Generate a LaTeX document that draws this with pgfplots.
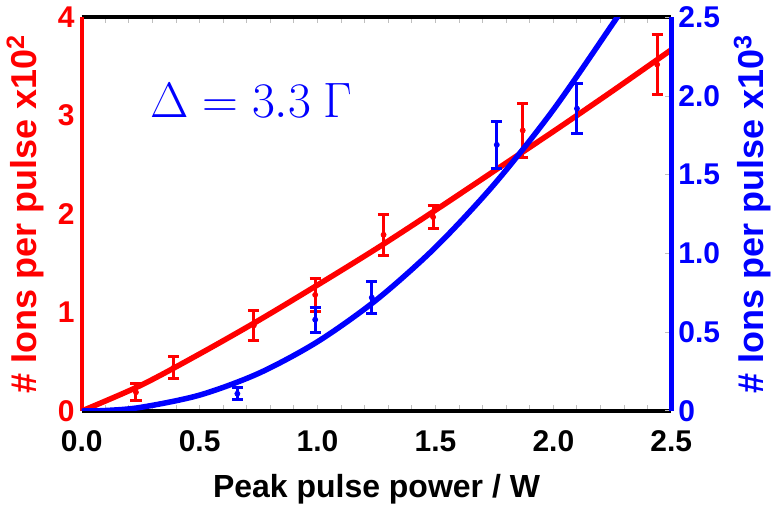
\documentclass[border=0pt]{standalone}
\usepackage{fontspec}
\setmainfont{Liberation Sans}
\usepackage{pgfplots}
\usepackage{pgfplotstable}
\pgfplotsset{compat=1.18}

% red series, left axis (x10^2)
\pgfplotstableread{
x     y     e
0.23  0.19  0.085
0.39  0.44  0.11
0.73  0.87  0.15
0.99  1.18  0.17
1.28  1.79  0.21
1.49  1.97  0.12
1.87  2.85  0.27
2.44  3.52  0.30
}\reddata

% blue series, right axis (x10^3)
\pgfplotstableread{
x     y     e
0.66  0.11  0.04
0.99  0.58  0.08
1.23  0.72  0.10
1.76  1.69  0.15
2.10  1.92  0.16
}\bluedata

\begin{document}
\begin{tikzpicture}
\pgfplotsset{
  every axis/.append style={
    scale only axis, width=295pt, height=197pt,
    xmin=0, xmax=2.5,
    tick label style={font=\fontsize{15}{15}\selectfont\bfseries},
    ylabel style={font=\fontsize{18}{18}\selectfont\bfseries},
    xlabel style={font=\fontsize{16}{16}\selectfont\bfseries},
    /pgf/number format/assume math mode=true,
    tick style={gray!50, line width=0.5pt},
    major tick length=3pt,
  },
}
\begin{axis}[
  separate axis lines,
  x axis line style={black, line width=2pt},
  y axis line style={red, line width=2pt},
  ymin=0, ymax=4,
  ytick={0,1,2,3,4},
  yticklabel style={red},
  ylabel={\# Ions per pulse x10\textsuperscript{2}},
  ylabel style={red},
  xtick={0,0.5,1,1.5,2,2.5},
  xticklabels={0.0,0.5,1.0,1.5,2.0,2.5},
  xticklabel style={yshift=-6.5pt},
  xlabel={Peak pulse power / W},
  xlabel style={yshift=-4pt},
  minor x tick num=4,
  ytick style={draw=none},
]
\addplot[red, line width=2.75pt, smooth, no marks] coordinates {
  (0,0) (0.25,0.26) (0.5,0.58) (0.75,0.92) (1.0,1.28) (1.25,1.65)
  (1.5,2.04) (1.75,2.44) (2.0,2.84) (2.25,3.25) (2.5,3.67)
};
\addplot[red, only marks, mark=*, mark size=1.25pt,
  error bars/.cd, y dir=both, y explicit,
  error bar style={line width=1.5pt},
  error mark options={rotate=90, mark size=2.8pt, line width=1.5pt}]
  table[x=x, y=y, y error=e] {\reddata};
\node[blue, font=\fontsize{23}{23}\selectfont] at (axis cs:0.72,3.15) {$\Delta = 3.3\ \Gamma$};
\end{axis}

\begin{axis}[
  axis y line*=right, axis x line=none,
  y axis line style={blue, line width=2.5pt},
  ymin=0, ymax=2.5,
  ytick={0,0.5,1,1.5,2,2.5},
  yticklabels={0,0.5,1.0,1.5,2.0,2.5},
  yticklabel style={blue},
  ylabel={\# Ions per pulse x10\textsuperscript{3}},
  ylabel style={blue},
]
\addplot[blue, line width=2.75pt, smooth, no marks] coordinates {
  (0,0) (0.1,0.003) (0.25,0.023) (0.5,0.101) (0.75,0.239) (1.0,0.44)
  (1.25,0.706) (1.5,1.039) (1.75,1.441) (2.0,1.913) (2.25,2.455) (2.28,2.525)
};
\addplot[blue, only marks, mark=*, mark size=1.25pt,
  error bars/.cd, y dir=both, y explicit,
  error bar style={line width=1.5pt},
  error mark options={rotate=90, mark size=2.8pt, line width=1.5pt}]
  table[x=x, y=y, y error=e] {\bluedata};
\end{axis}
\end{tikzpicture}
\end{document}
